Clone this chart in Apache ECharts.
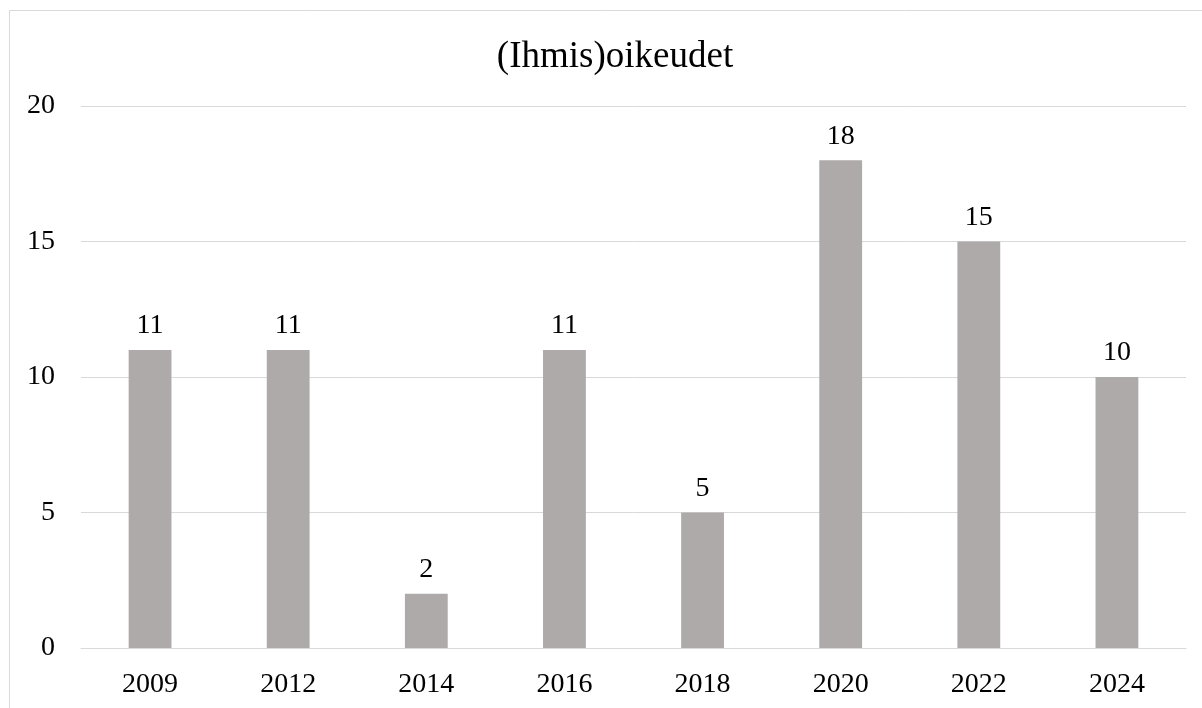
<!DOCTYPE html>
<html>
<head>
<meta charset="utf-8">
<script src="https://cdn.jsdelivr.net/npm/echarts@6/dist/echarts.min.js"></script>
<style>
  html, body { margin: 0; padding: 0; background: #fff; }
  #chart { width: 1202px; height: 708px; }
</style>
</head>
<body>
<div id="chart"></div>
<script>
  var years = ['2009', '2012', '2014', '2016', '2018', '2020', '2022', '2024']
  var counts = [11, 11, 2, 11, 5, 18, 15, 10]
  var yTicks = [0, 5, 10, 15, 20]

  var font = '"Liberation Serif", "Times New Roman", serif'
  var myChart = echarts.init(document.getElementById('chart'))
  myChart.setOption({
    animation: false,
    title: {
      text: '(Ihmis)oikeudet',
      left: 610,
      textAlign: 'center',
      top: 34,
      textStyle: { fontFamily: font, fontSize: 37, fontWeight: 'normal', color: '#000' }
    },
    graphic: [
      {
        // outer frame, runs off the right and bottom edges
        type: 'rect',
        shape: { x: 9.5, y: 10.5, width: 1400, height: 900 },
        style: { fill: null, stroke: '#d9d9d9', lineWidth: 1 },
        silent: true
      }
    ],
    grid: { left: 81, right: 16, top: 106, bottom: 60 },
    xAxis: {
      type: 'category',
      data: years,
      axisLine: { lineStyle: { color: '#d9d9d9', width: 1 } },
      axisTick: { show: false },
      axisLabel: { fontFamily: font, fontSize: 28, color: '#000', margin: 23 }
    },
    yAxis: {
      type: 'value',
      min: yTicks[0],
      max: yTicks[yTicks.length - 1],
      interval: 5,
      axisLine: { show: false },
      axisTick: { show: false },
      splitLine: { lineStyle: { color: '#d9d9d9', width: 1 } },
      axisLabel: { fontFamily: font, fontSize: 28, color: '#000', margin: 26 }
    },
    series: [
      {
        type: 'bar',
        data: counts,
        barWidth: '31%',
        itemStyle: { color: '#aeaaaa' },
        label: {
          show: true,
          position: 'top',
          distance: 10,
          fontFamily: font,
          fontSize: 28,
          color: '#000'
        }
      }
    ]
  })
</script>
</body>
</html>
